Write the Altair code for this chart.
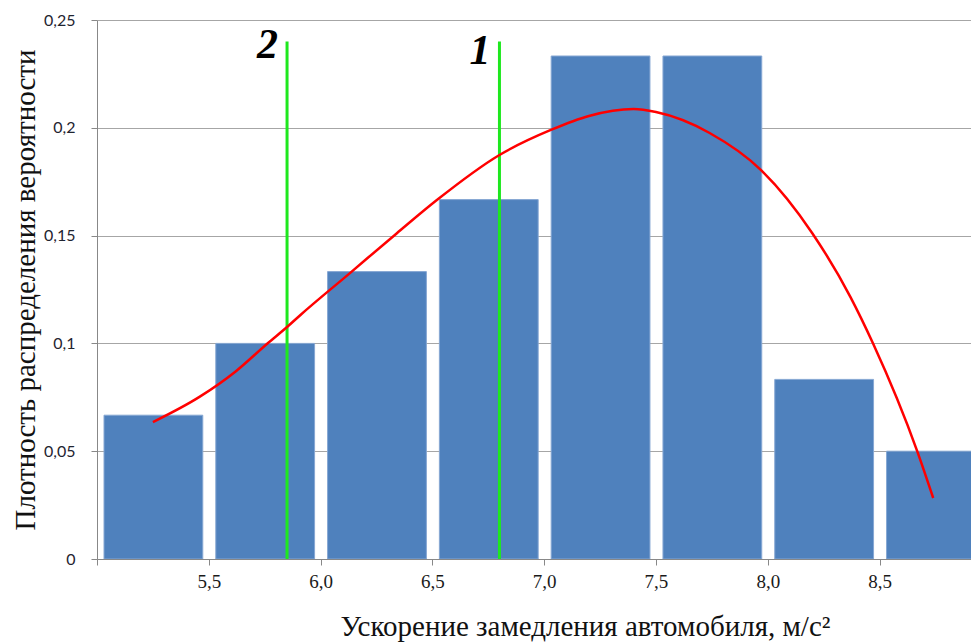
import altair as alt
import pandas as pd

# Histogram bins
bin_start = [5.0, 5.5, 6.0, 6.5, 7.0, 7.5, 8.0, 8.5]
bin_end = [5.5, 6.0, 6.5, 7.0, 7.5, 8.0, 8.5, 9.0]
density = [0.0667, 0.1, 0.1333, 0.1667, 0.2333, 0.2333, 0.0833, 0.05]

# Fitted curve
curve_x = [5.25, 5.46, 5.62, 5.765, 5.85, 5.91, 6.13, 6.34, 6.52, 6.80, 7.03,
           7.20, 7.40, 7.50, 7.74, 7.97, 8.20, 8.37, 8.47, 8.67, 8.74]
curve_y = [0.0635, 0.0753, 0.087, 0.1002, 0.1076, 0.1132, 0.1325, 0.151, 0.1665,
           0.1874, 0.199, 0.2055, 0.2087, 0.2073, 0.1976, 0.1804, 0.151, 0.1215,
           0.1002, 0.0496, 0.0283]

# Vertical markers
marker_x = [5.85, 6.8]
marker_top = [0.24, 0.24]
marker_label = ["2", "1"]
marker_label_y = [0.2325, 0.2295]

x_ticks = [5.0, 5.5, 6.0, 6.5, 7.0, 7.5, 8.0, 8.5]
y_ticks = [0, 0.05, 0.1, 0.15, 0.2, 0.25]

bars_df = pd.DataFrame({"start": bin_start, "end": bin_end, "density": density,
                        "base": [0.0] * len(density)})
curve_df = pd.DataFrame({"x": curve_x, "y": curve_y})
marks_df = pd.DataFrame({"x": marker_x, "top": marker_top, "label": marker_label,
                         "ly": marker_label_y, "base": [0.0] * len(marker_x)})

xscale = alt.Scale(domain=[5.0, 8.909], nice=False, zero=False)
yscale = alt.Scale(domain=[0, 0.25], nice=False)

x_axis = alt.Axis(
    values=x_ticks,
    labelExpr="datum.value == 5 ? '' : replace(format(datum.value, '.1f'), '.', ',')",
    grid=False,
    title="Ускорение замедления автомобиля, м/с²",
    titleAnchor="start",
    titleAlign="left",
    titleX=243,
    titleY=76,
    titleBaseline="alphabetic",
)
y_axis = alt.Axis(
    values=y_ticks,
    labelExpr="replace(toString(datum.value), '.', ',')",
    grid=True,
    title="Плотность распределения вероятности",
)

bars = alt.Chart(bars_df).mark_rect(
    color="#4f81bd", stroke="#86a7d3", strokeWidth=1, xOffset=7, x2Offset=-6, clip=True
).encode(
    x=alt.X("start:Q", scale=xscale, axis=x_axis),
    x2="end:Q",
    y=alt.Y("density:Q", scale=yscale, axis=y_axis),
    y2="base:Q",
)

curve = alt.Chart(curve_df).mark_line(
    color="#ff0000", strokeWidth=2.5, interpolate="monotone"
).encode(
    x=alt.X("x:Q", scale=xscale, axis=x_axis),
    y=alt.Y("y:Q", scale=yscale, axis=y_axis),
)

rules = alt.Chart(marks_df).mark_rule(color="#1ee81e", strokeWidth=3).encode(
    x=alt.X("x:Q", scale=xscale, axis=x_axis),
    y=alt.Y("base:Q", scale=yscale, axis=y_axis),
    y2="top:Q",
)

labels = alt.Chart(marks_df).mark_text(
    font="Liberation Serif", fontSize=42, fontWeight="bold", fontStyle="italic",
    align="right", baseline="alphabetic", dx=-9, color="#000000"
).encode(
    x=alt.X("x:Q", scale=xscale, axis=x_axis),
    y=alt.Y("ly:Q", scale=yscale, axis=y_axis),
    text="label:N",
)

chart = alt.layer(bars, rules, curve, labels).properties(
    width=874,
    height=539,
    autosize=alt.AutoSizeParams(type="none"),
    padding={"left": 89, "top": 12, "right": 0, "bottom": 83},
    background="white",
).configure_view(
    stroke=None
).configure_axis(
    titleFont="Liberation Serif",
    titleFontSize=29,
    titleFontWeight="normal",
    titleColor="#111111",
    tickSize=6,
    tickColor="#888888",
    domainColor="#888888",
    gridColor="#a6a6a6",
).configure_axisX(
    labelFont="Liberation Sans Narrow",
    labelFontSize=19,
    labelColor="#1a1a1a",
    labelPadding=7,
).configure_axisY(
    labelFont="Lato",
    labelFontSize=16,
    labelColor="#1f2430",
    labelPadding=16,
    titlePadding=3,
)

chart.save("out.html", embed_options={"renderer": "svg", "actions": False})
